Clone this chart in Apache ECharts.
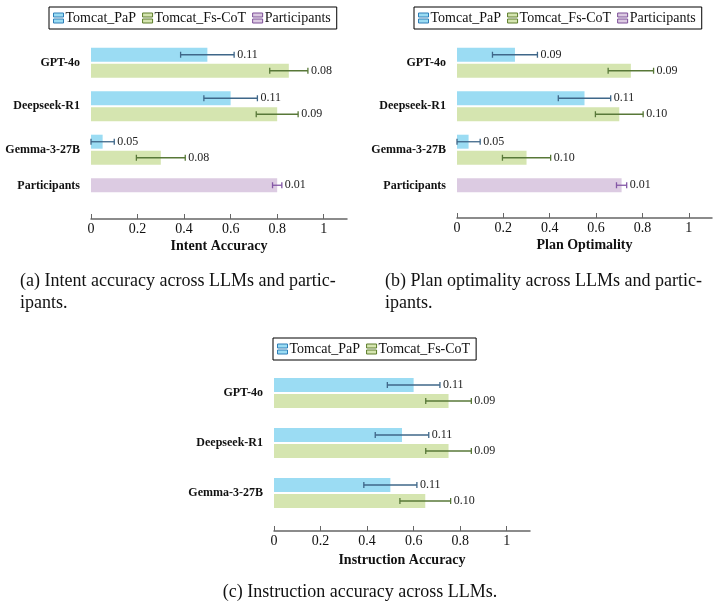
<!DOCTYPE html>
<html>
<head>
<meta charset="utf-8">
<title>LLM accuracy</title>
<script src="https://cdn.jsdelivr.net/npm/echarts@6/dist/echarts.min.js"></script>
<style>
  html, body { margin: 0; padding: 0; background: #fff; }
  #chart { width: 720px; height: 610px; }
</style>
</head>
<body>
<div id="chart"></div>
<script>
// categories
var llms = ['GPT-4o', 'Deepseek-R1', 'Gemma-3-27B'];
var catsWithPeople = ['GPT-4o', 'Deepseek-R1', 'Gemma-3-27B', 'Participants'];
var xTicks = [0, 0.2, 0.4, 0.6, 0.8, 1];

// (a) intent accuracy
var intentPaP = [0.50, 0.60, 0.05];
var intentPaPErr = [0.115, 0.115, 0.05];
var intentPaPLbl = ['0.11', '0.11', '0.05'];
var intentCoT = [0.85, 0.80, 0.30];
var intentCoTErr = [0.082, 0.09, 0.105];
var intentCoTLbl = ['0.08', '0.09', '0.08'];
var intentPeople = 0.80;
var intentPeopleErr = 0.02;
var intentPeopleLbl = '0.01';

// (b) plan optimality
var planPaP = [0.25, 0.55, 0.05];
var planPaPErr = [0.097, 0.113, 0.05];
var planPaPLbl = ['0.09', '0.11', '0.05'];
var planCoT = [0.75, 0.70, 0.30];
var planCoTErr = [0.098, 0.103, 0.104];
var planCoTLbl = ['0.09', '0.10', '0.10'];
var planPeople = 0.71;
var planPeopleErr = 0.022;
var planPeopleLbl = '0.01';

// (c) instruction accuracy
var instrPaP = [0.60, 0.55, 0.50];
var instrPaPErr = [0.113, 0.115, 0.114];
var instrPaPLbl = ['0.11', '0.11', '0.11'];
var instrCoT = [0.75, 0.75, 0.65];
var instrCoTErr = [0.098, 0.098, 0.109];
var instrCoTLbl = ['0.09', '0.09', '0.10'];

var FONT = '"Liberation Serif", "DejaVu Serif", serif';
var C_PAP = '#9bdcf3', C_COT = '#d5e5b0', C_PEO = '#dccbe2';
var E_PAP = '#3f6789', E_COT = '#587838', E_PEO = '#8457a6';
var BAR_W = 14, SLOT = 8;

var chart = echarts.init(document.getElementById('chart'));

function withPeople(arr) { return arr.concat([null]); }

// error bar + value label, drawn on the same axes as the bars
function errSeries(name, idx, vals, errs, lbls, cats, slot, color) {
    var data = vals.map(function (v, i) { return [v, cats[i], errs[i]]; });
    return {
        type: 'custom',
        name: name + '_err',
        xAxisIndex: idx,
        yAxisIndex: idx,
        clip: false,
        silent: true,
        z: 5,
        data: data,
        renderItem: function (params, api) {
            var v = api.value(0), c = api.value(1), e = api.value(2);
            var y = api.coord([v, c])[1] + slot;
            var x0 = api.coord([v - e, c])[0];
            var x1 = api.coord([v + e, c])[0];
            var st = { stroke: color, lineWidth: 1.3 };
            return {
                type: 'group',
                children: [
                    { type: 'line', shape: { x1: x0, y1: y, x2: x1, y2: y }, style: st },
                    { type: 'line', shape: { x1: x0, y1: y - 3, x2: x0, y2: y + 3 }, style: st },
                    { type: 'line', shape: { x1: x1, y1: y - 3, x2: x1, y2: y + 3 }, style: st },
                    {
                        type: 'text',
                        x: x1 + 3, y: y,
                        style: {
                            text: lbls[params.dataIndex],
                            fill: '#222',
                            font: '12px ' + FONT,
                            verticalAlign: 'middle',
                            align: 'left'
                        }
                    }
                ]
            };
        }
    };
}

function legendFor(left, top, names) {
    var styles = {
        'Tomcat_PaP': { color: C_PAP, borderColor: '#2e7fb8' },
        'Tomcat_Fs-CoT': { color: C_COT, borderColor: '#5c7d2a' },
        'Participants': { color: C_PEO, borderColor: '#7d4f98' }
    };
    return {
        left: left, top: top,
        orient: 'horizontal',
        backgroundColor: '#fff',
        borderColor: '#000',
        borderWidth: 1,
        borderRadius: 0,
        padding: [4, 6, 4, 4],
        itemGap: 6,
        itemWidth: 10,
        itemHeight: 10,
        icon: 'path://M0,0H10V4H0Z M0,6H10V10H0Z',
        selectedMode: false,
        textStyle: { fontFamily: FONT, fontSize: 14, color: '#111', padding: [0, 0, 0, -3] },
        data: names.map(function (n) {
            return { name: n, itemStyle: { color: styles[n].color, borderColor: styles[n].borderColor, borderWidth: 1 } };
        })
    };
}

function xAxisFor(idx, title, offset, gap) {
    return {
        type: 'value',
        gridIndex: idx,
        min: 0, max: 1.1,
        offset: offset,
        name: title,
        nameLocation: 'middle',
        nameGap: gap,
        nameTextStyle: { fontFamily: FONT, fontSize: 14, fontWeight: 'bold', color: '#111' },
        axisLine: { show: true, lineStyle: { color: '#666', width: 1.5 } },
        axisTick: { show: true, inside: true, length: 5, customValues: xTicks, lineStyle: { color: '#666', width: 1 } },
        axisLabel: { customValues: xTicks, margin: 3, fontFamily: FONT, fontSize: 14, color: '#111' },
        splitLine: { show: false }
    };
}

function yAxisFor(idx, cats) {
    return {
        type: 'category',
        gridIndex: idx,
        data: cats,
        inverse: true,
        axisLine: { show: false },
        axisTick: { show: false },
        axisLabel: {
            margin: 11,
            fontFamily: FONT, fontSize: 12, fontWeight: 'bold', color: '#111',
            formatter: function (v) { return v === 'Participants' ? '{up|' + v + '}' : v; },
            rich: { up: { fontFamily: FONT, fontSize: 12, fontWeight: 'bold', color: '#111', padding: [0, 0, 14, 0] } }
        }
    };
}

function barSeries(name, idx, data, color, stack) {
    var s = {
        type: 'bar',
        name: name,
        xAxisIndex: idx,
        yAxisIndex: idx,
        data: data,
        barWidth: BAR_W,
        barGap: '15%',
        itemStyle: { color: color },
        emphasis: { disabled: true }
    };
    if (stack) s.stack = stack;
    return s;
}

var capStyle = { fontFamily: FONT, fontSize: 18, fontWeight: 'normal', color: '#111', lineHeight: 22 };

var option = {
    animation: false,
    backgroundColor: '#fff',
    title: [
        { text: '(a) Intent accuracy across LLMs and partic-\nipants.', left: 20, top: 270, padding: 0, textStyle: capStyle },
        { text: '(b) Plan optimality across LLMs and partic-\nipants.', left: 385, top: 270, padding: 0, textStyle: capStyle },
        { text: '(c) Instruction accuracy across LLMs.', left: 'center', top: 581, padding: 0, textStyle: capStyle }
    ],
    legend: [
        legendFor(49, 7, ['Tomcat_PaP', 'Tomcat_Fs-CoT', 'Participants']),
        legendFor(414, 7, ['Tomcat_PaP', 'Tomcat_Fs-CoT', 'Participants']),
        legendFor(273, 338, ['Tomcat_PaP', 'Tomcat_Fs-CoT'])
    ],
    grid: [
        { left: 91, width: 256, top: 41, height: 174 },
        { left: 457, width: 255, top: 41, height: 174 },
        { left: 274, width: 256, top: 368, height: 150 }
    ],
    xAxis: [
        xAxisFor(0, 'Intent Accuracy', 4, 20),
        xAxisFor(1, 'Plan Optimality', 3, 20),
        xAxisFor(2, 'Instruction Accuracy', 13, 22)
    ],
    yAxis: [
        yAxisFor(0, catsWithPeople),
        yAxisFor(1, catsWithPeople),
        yAxisFor(2, llms)
    ],
    series: [
        barSeries('Tomcat_PaP', 0, withPeople(intentPaP), C_PAP, 'a'),
        barSeries('Tomcat_Fs-CoT', 0, withPeople(intentCoT), C_COT),
        barSeries('Participants', 0, [null, null, null, intentPeople], C_PEO, 'a'),
        errSeries('a_pap', 0, intentPaP, intentPaPErr, intentPaPLbl, [0, 1, 2], -SLOT, E_PAP),
        errSeries('a_cot', 0, intentCoT, intentCoTErr, intentCoTLbl, [0, 1, 2], SLOT, E_COT),
        errSeries('a_peo', 0, [intentPeople], [intentPeopleErr], [intentPeopleLbl], [3], -SLOT, E_PEO),

        barSeries('Tomcat_PaP', 1, withPeople(planPaP), C_PAP, 'b'),
        barSeries('Tomcat_Fs-CoT', 1, withPeople(planCoT), C_COT),
        barSeries('Participants', 1, [null, null, null, planPeople], C_PEO, 'b'),
        errSeries('b_pap', 1, planPaP, planPaPErr, planPaPLbl, [0, 1, 2], -SLOT, E_PAP),
        errSeries('b_cot', 1, planCoT, planCoTErr, planCoTLbl, [0, 1, 2], SLOT, E_COT),
        errSeries('b_peo', 1, [planPeople], [planPeopleErr], [planPeopleLbl], [3], -SLOT, E_PEO),

        barSeries('Tomcat_PaP', 2, instrPaP, C_PAP),
        barSeries('Tomcat_Fs-CoT', 2, instrCoT, C_COT),
        errSeries('c_pap', 2, instrPaP, instrPaPErr, instrPaPLbl, [0, 1, 2], -SLOT, E_PAP),
        errSeries('c_cot', 2, instrCoT, instrCoTErr, instrCoTLbl, [0, 1, 2], SLOT, E_COT)
    ]
};

chart.setOption(option);
</script>
</body>
</html>
